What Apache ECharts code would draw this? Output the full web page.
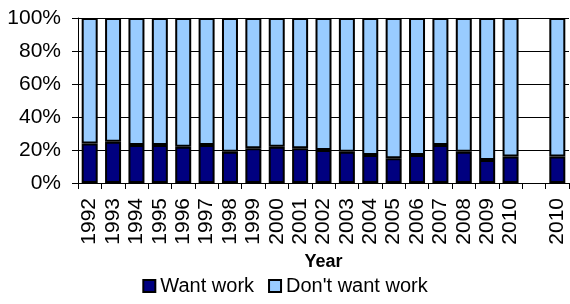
<!DOCTYPE html>
<html lang="en">
<head>
<meta charset="UTF-8">
<title>Want work</title>
<style>
  html, body { margin: 0; padding: 0; background: #fff; }
</style>
</head>
<body>
<div id="main" style="width:570px;height:304px;"></div>
<script src="https://cdn.jsdelivr.net/npm/echarts@6/dist/echarts.min.js"></script>
<script>
// years, with an empty slot before the repeated 2010 bar
var years = ['1992', '1993', '1994', '1995', '1996', '1997', '1998', '1999', '2000', '2001',
    '2002', '2003', '2004', '2005', '2006', '2007', '2008', '2009', '2010', '', '2010'];
// share (%) wanting work
var wantWork = [24, 25, 23, 23, 22, 23, 19, 21, 22, 21, 20, 19, 17, 15, 17, 23, 19, 14, 16, null, 16];
// share (%) not wanting work
var dontWantWork = [76, 75, 77, 77, 78, 77, 81, 79, 78, 79, 80, 81, 83, 85, 83, 77, 81, 86, 84, null, 84];
var yTicks = [0, 20, 40, 60, 80, 100];

var font = 'Arial, "Liberation Sans", sans-serif';
var myChart = echarts.init(document.getElementById('main'));

var option = {
    animation: false,
    grid: {
        left: 78,
        right: 1,
        top: 18,
        bottom: 121
    },
    legend: {
        bottom: 3,
        left: 'center',
        itemWidth: 12,
        itemHeight: 12,
        itemGap: 14,
        icon: 'rect',
        textStyle: { fontFamily: font, fontSize: 20, color: '#000' },
        data: ['Want work', "Don't want work"]
    },
    xAxis: {
        type: 'category',
        data: years,
        name: 'Year',
        nameLocation: 'middle',
        nameGap: 70,
        nameTextStyle: { fontFamily: font, fontSize: 18, fontWeight: 'bold', color: '#000' },
        axisLine: { lineStyle: { color: '#000', width: 1 } },
        axisTick: { show: true, length: 6, interval: 0, lineStyle: { color: '#000' } },
        axisLabel: {
            interval: 0,
            rotate: 90,
            margin: 15,
            fontFamily: font,
            fontSize: 21,
            color: '#000'
        }
    },
    yAxis: {
        type: 'value',
        min: yTicks[0],
        max: yTicks[yTicks.length - 1],
        interval: 20,
        axisLine: { show: true, lineStyle: { color: '#000', width: 1 } },
        axisTick: { show: true, length: 6, inside: false, lineStyle: { color: '#000' } },
        axisLabel: {
            margin: 17,
            fontFamily: font,
            fontSize: 21,
            color: '#000',
            formatter: '{value}%'
        },
        splitLine: { show: true, lineStyle: { color: '#000', width: 1 } }
    },
    series: [
        {
            name: 'Want work',
            type: 'bar',
            stack: 'total',
            barWidth: 16,
            itemStyle: { color: '#000080', borderColor: '#000', borderWidth: 2 },
            data: wantWork
        },
        {
            name: "Don't want work",
            type: 'bar',
            stack: 'total',
            barWidth: 16,
            itemStyle: { color: '#99CCFF', borderColor: '#000', borderWidth: 2 },
            data: dontWantWork
        }
    ]
};

myChart.setOption(option);
</script>
</body>
</html>
